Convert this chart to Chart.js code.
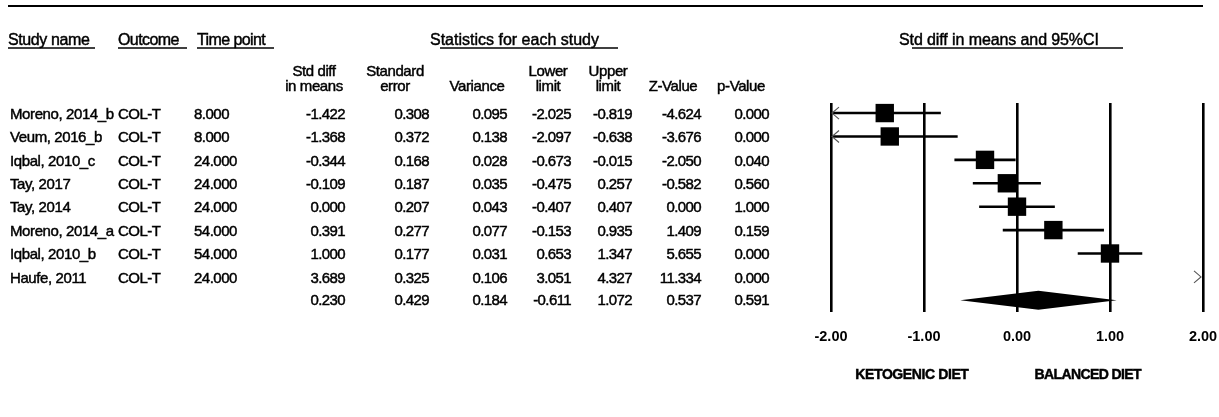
<!DOCTYPE html>
<html>
<head>
<meta charset="utf-8">
<script src="https://cdn.jsdelivr.net/npm/chart.js@4.4.1/dist/chart.umd.min.js"></script>
<style>
  html, body { margin: 0; padding: 0; background: #fff; }
  canvas { display: block; }
</style>
</head>
<body>
<canvas id="forest" width="1219" height="417"></canvas>
<script>
// ---- data ----
const studyNames = ['Moreno, 2014_b', 'Veum, 2016_b', 'Iqbal, 2010_c', 'Tay, 2017', 'Tay, 2014', 'Moreno, 2014_a', 'Iqbal, 2010_b', 'Haufe, 2011'];
const outcomes   = ['COL-T', 'COL-T', 'COL-T', 'COL-T', 'COL-T', 'COL-T', 'COL-T', 'COL-T'];
const timePoints = [8, 8, 24, 24, 24, 54, 54, 24];
const stdDiff    = [-1.422, -1.368, -0.344, -0.109, 0.000, 0.391, 1.000, 3.689];
const stdError   = [0.308, 0.372, 0.168, 0.187, 0.207, 0.277, 0.177, 0.325];
const variance   = [0.095, 0.138, 0.028, 0.035, 0.043, 0.077, 0.031, 0.106];
const lowerLimit = [-2.025, -2.097, -0.673, -0.475, -0.407, -0.153, 0.653, 3.051];
const upperLimit = [-0.819, -0.638, -0.015, 0.257, 0.407, 0.935, 1.347, 4.327];
const zValue     = [-4.624, -3.676, -2.050, -0.582, 0.000, 1.409, 5.655, 11.334];
const pValue     = [0.000, 0.000, 0.040, 0.560, 1.000, 0.159, 0.000, 0.000];
// pooled estimate: std diff, standard error, variance, lower, upper, Z, p
const summaryStats = [0.230, 0.429, 0.184, -0.611, 1.072, 0.537, 0.591];
const xTicks = [-2, -1, 0, 1, 2];
const favoursLabels = ['KETOGENIC DIET', 'BALANCED DIET'];

// ---- layout / style ----
const FONT = '"Liberation Sans", Arial, sans-serif';
const BODY = '15px ' + FONT;
const HEAD = '16px ' + FONT;
const AXIS = 'bold 14px ' + FONT;
const INK = '#000';
const summaryRow = studyNames.length;   // pooled row sits below the studies

// numeric columns of the statistics table (right edge / header centre)
const statCols = [
  { right: 345, center: 314, head: ['Std diff', 'in means'], values: stdDiff },
  { right: 429, center: 395, head: ['Standard', 'error'],    values: stdError },
  { right: 507, center: 477, head: [null, 'Variance'],        values: variance },
  { right: 571, center: 548, head: ['Lower', 'limit'],       values: lowerLimit },
  { right: 632, center: 608, head: ['Upper', 'limit'],       values: upperLimit },
  { right: 701, center: 673, head: [null, 'Z-Value'],         values: zValue },
  { right: 769, center: 741, head: [null, 'p-Value'],         values: pValue }
];

// text with a hairline outline so the glyphs read a little heavier
function put(ctx, str, x, y, align, font, spacing) {
  ctx.font = font || BODY;
  ctx.textAlign = align || 'left';
  ctx.letterSpacing = (spacing === undefined ? -0.3 : spacing) + 'px';
  ctx.lineWidth = 0.45;
  ctx.strokeText(str, x, y);
  ctx.fillText(str, x, y);
}
function rule(ctx, x1, x2, y, w) {
  ctx.beginPath();
  ctx.lineWidth = w;
  ctx.moveTo(x1, y);
  ctx.lineTo(x2, y);
  ctx.stroke();
}

const forestPlugin = {
  id: 'forestTable',
  beforeDatasetsDraw(chart) {
    const { ctx, scales: { x, y } } = chart;
    const xmin = x.min, xmax = x.max;
    ctx.save();
    ctx.strokeStyle = INK;
    ctx.fillStyle = INK;
    // confidence intervals, clipped to the axis range with arrow heads
    for (let i = 0; i < studyNames.length; i++) {
      const py = y.getPixelForValue(i);
      const lo = Math.max(lowerLimit[i], xmin);
      const hi = Math.min(upperLimit[i], xmax);
      if (lo < hi) {
        ctx.lineWidth = 2.6;
        ctx.beginPath();
        ctx.moveTo(x.getPixelForValue(lo), py);
        ctx.lineTo(x.getPixelForValue(hi), py);
        ctx.stroke();
      }
      ctx.lineWidth = 1.1;
      ctx.strokeStyle = '#555';
      if (lowerLimit[i] < xmin && upperLimit[i] > xmin) {
        const ex = x.getPixelForValue(xmin) + 1;
        ctx.beginPath();
        ctx.moveTo(ex + 7, py - 6); ctx.lineTo(ex, py); ctx.lineTo(ex + 7, py + 6);
        ctx.stroke();
      }
      if (upperLimit[i] > xmax) {
        const ex = x.getPixelForValue(xmax) - 2;
        ctx.beginPath();
        ctx.moveTo(ex - 7, py - 6); ctx.lineTo(ex, py); ctx.lineTo(ex - 7, py + 6);
        ctx.stroke();
      }
      ctx.strokeStyle = INK;
    }
    // pooled-effect diamond
    const sy = y.getPixelForValue(summaryRow);
    const half = 9.5;
    ctx.beginPath();
    ctx.moveTo(x.getPixelForValue(summaryStats[3]), sy);
    ctx.lineTo(x.getPixelForValue(summaryStats[0]), sy - half);
    ctx.lineTo(x.getPixelForValue(summaryStats[4]), sy);
    ctx.lineTo(x.getPixelForValue(summaryStats[0]), sy + half);
    ctx.closePath();
    ctx.fill();
    ctx.restore();
  },
  afterDraw(chart) {
    const { ctx, scales: { x, y } } = chart;
    ctx.save();
    ctx.fillStyle = INK;
    ctx.strokeStyle = INK;
    ctx.textBaseline = 'alphabetic';

    // top rule
    rule(ctx, 8, 1203, 6, 2);

    // group headers
    put(ctx, 'Study name', 8, 45, 'left', HEAD, -0.4);
    rule(ctx, 8, 95, 48, 1.3);
    put(ctx, 'Outcome', 118, 45, 'left', HEAD, -0.6);
    rule(ctx, 118, 187, 48, 1.3);
    put(ctx, 'Time point', 197, 45, 'left', HEAD, -0.6);
    rule(ctx, 197, 274, 48, 1.3);
    put(ctx, 'Statistics for each study', 430, 45, 'left', HEAD, 0);
    rule(ctx, 440, 618, 48, 1.3);
    put(ctx, 'Std diff in means and 95%CI', 899, 45, 'left', HEAD, -0.1);
    rule(ctx, 912, 1123, 48, 1.3);

    // column headers
    for (const c of statCols) {
      if (c.head[0]) put(ctx, c.head[0], c.center, 76, 'center', BODY, -0.4);
      put(ctx, c.head[1], c.center, 91, 'center', BODY, -0.4);
    }

    // study rows
    ctx.textBaseline = 'middle';
    for (let i = 0; i < studyNames.length; i++) {
      const py = y.getPixelForValue(i) + 1.5;
      put(ctx, studyNames[i], 10, py, 'left', BODY, -0.4);
      put(ctx, outcomes[i], 118, py, 'left', BODY, -0.5);
      put(ctx, timePoints[i].toFixed(3), 194, py, 'left', BODY, -0.5);
      for (const c of statCols) {
        put(ctx, c.values[i].toFixed(3), c.right, py, 'right', BODY, -0.6);
      }
    }
    // pooled row
    const sy = y.getPixelForValue(summaryRow) + 1;
    statCols.forEach((c, k) => put(ctx, summaryStats[k].toFixed(3), c.right, sy, 'right', BODY, -0.6));

    // favours labels under the axis
    put(ctx, favoursLabels[0], x.getPixelForValue(-1.13), 375, 'center', AXIS, -0.4);
    put(ctx, favoursLabels[1], x.getPixelForValue(0.76), 375, 'center', AXIS, -0.6);
    ctx.restore();
  }
};

new Chart(document.getElementById('forest'), {
  type: 'scatter',
  data: {
    datasets: [{
      label: 'Std diff in means',
      data: stdDiff.map((v, i) => ({ x: v, y: i })),
      pointStyle: 'rect',
      pointRadius: 13,
      pointHoverRadius: 13,
      backgroundColor: INK,
      borderWidth: 0
    }]
  },
  options: {
    responsive: false,
    animation: false,
    events: [],
    layout: { padding: { left: 831, right: 16, top: 103, bottom: 0 } },
    plugins: { legend: { display: false }, tooltip: { enabled: false } },
    scales: {
      x: {
        type: 'linear',
        min: xTicks[0],
        max: xTicks[xTicks.length - 1],
        afterBuildTicks: (s) => { s.ticks = xTicks.map(v => ({ value: v })); },
        afterFit: (s) => { s.height = 105; s.paddingLeft = 0; s.paddingRight = 0; },
        ticks: {
          color: INK,
          padding: 16,
          maxRotation: 0,
          font: { family: FONT, size: 14.5, weight: 'bold' },
          callback: (v) => Number(v).toFixed(2)
        },
        grid: { color: INK, lineWidth: 2.6, drawTicks: false },
        border: { display: false }
      },
      y: {
        type: 'linear',
        min: -0.43,
        max: 8.5,
        reverse: true,
        display: false
      }
    }
  },
  plugins: [forestPlugin]
});
</script>
</body>
</html>
